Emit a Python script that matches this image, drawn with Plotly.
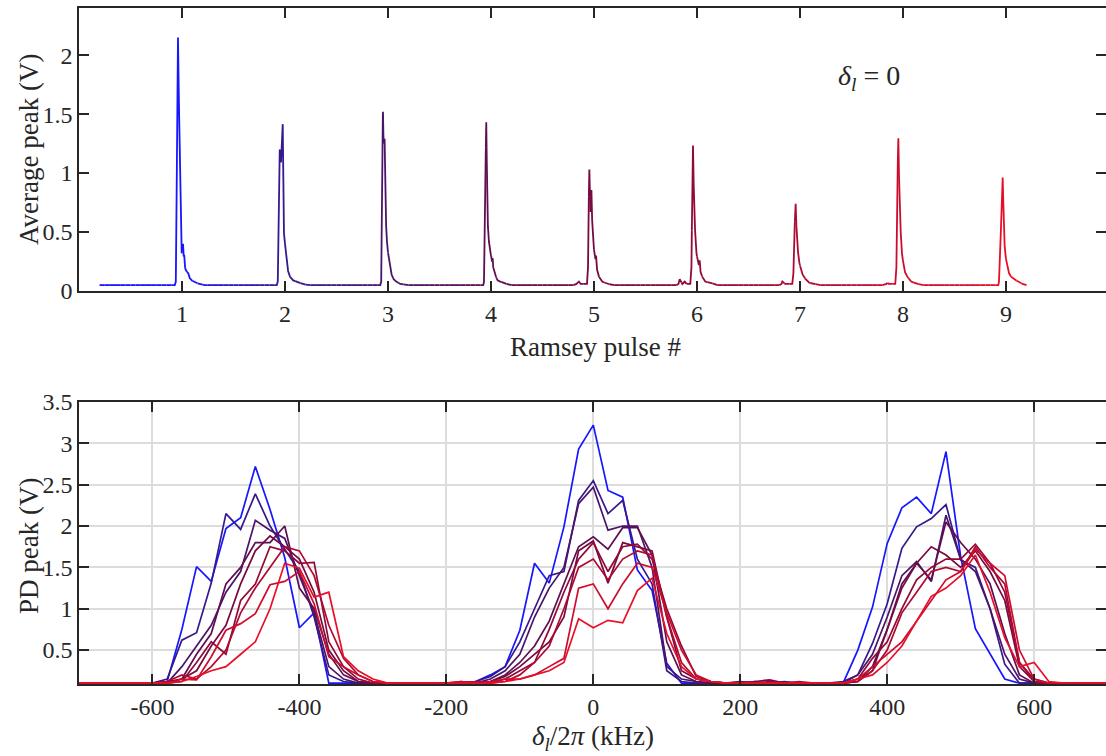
import numpy as np
import plotly.graph_objects as go

# ---------------- top panel: averaged PD trace over the Ramsey pulse train ----------------
TRACE_START = 0.2
BASELINE = 0.05
PULSE_NUMBERS = [1, 2, 3, 4, 5, 6, 7, 8, 9]

# each pulse: offsets from the pulse number, and averaged peak voltage (V)
P1_DX = [-0.07, -0.06, -0.045, -0.039, -0.03, -0.019, -0.008, -0.003, 0.004, 0.01, 0.016, 0.022, 0.03, 0.036, 0.05, 0.061, 0.075, 0.094, 0.13, 0.175, 0.22]
P1_V = [0.05, 0.08, 1.5, 2.15, 1.6, 0.97, 0.45, 0.32, 0.36, 0.40, 0.30, 0.30, 0.20, 0.18, 0.16, 0.15, 0.11, 0.09, 0.07, 0.06, 0.05]
P2_DX = [-0.08, -0.07, -0.058, -0.051, -0.045, -0.039, -0.03, -0.022, -0.016, -0.01, 0.0, 0.008, 0.016, 0.03, 0.049, 0.08, 0.11, 0.17, 0.22]
P2_V = [0.05, 0.08, 0.9, 1.2, 1.18, 1.09, 1.25, 1.415, 0.95, 0.49, 0.40, 0.33, 0.26, 0.17, 0.12, 0.09, 0.08, 0.06, 0.05]
P3_DX = [-0.075, -0.066, -0.058, -0.052, -0.049, -0.044, -0.038, -0.033, -0.026, -0.018, -0.01, -0.004, 0.008, 0.022, 0.035, 0.055, 0.08, 0.12, 0.2]
P3_V = [0.05, 0.08, 0.9, 1.45, 1.52, 1.3, 1.25, 1.29, 0.9, 0.55, 0.42, 0.35, 0.28, 0.20, 0.14, 0.10, 0.08, 0.06, 0.05]
P4_DX = [-0.075, -0.068, -0.056, -0.046, -0.041, -0.039, -0.03, -0.02, -0.008, 0.003, 0.01, 0.016, 0.022, 0.042, 0.065, 0.09, 0.15, 0.2]
P4_V = [0.05, 0.08, 0.9, 1.43, 1.1, 0.92, 0.55, 0.42, 0.32, 0.29, 0.25, 0.28, 0.20, 0.13, 0.09, 0.08, 0.06, 0.05]
P5_DX = [-0.2, -0.17, -0.146, -0.13, -0.068, -0.058, -0.05, -0.045, -0.04, -0.035, -0.03, -0.025, -0.018, -0.01, 0.0, 0.007, 0.014, 0.02, 0.03, 0.049, 0.08, 0.13, 0.2]
P5_V = [0.05, 0.06, 0.08, 0.06, 0.06, 0.2, 0.8, 1.03, 0.85, 0.67, 0.8, 0.857, 0.6, 0.45, 0.35, 0.29, 0.27, 0.30, 0.18, 0.12, 0.08, 0.06, 0.05]
P6_DX = [-0.2, -0.18, -0.168, -0.155, -0.142, -0.13, -0.119, -0.1, -0.065, -0.054, -0.045, -0.039, -0.032, -0.026, -0.019, -0.005, 0.01, 0.018, 0.026, 0.035, 0.052, 0.08, 0.133, 0.2]
P6_V = [0.05, 0.06, 0.10, 0.08, 0.06, 0.07, 0.08, 0.06, 0.06, 0.2, 0.9, 1.233, 0.9, 0.65, 0.52, 0.32, 0.24, 0.22, 0.26, 0.16, 0.12, 0.08, 0.07, 0.05]
P7_DX = [-0.2, -0.18, -0.171, -0.16, -0.145, -0.075, -0.064, -0.052, -0.042, -0.035, -0.027, -0.019, -0.006, 0.007, 0.025, 0.055, 0.09, 0.136, 0.2]
P7_V = [0.05, 0.06, 0.08, 0.075, 0.06, 0.06, 0.15, 0.55, 0.739, 0.55, 0.40, 0.33, 0.24, 0.19, 0.14, 0.10, 0.07, 0.06, 0.05]
P8_DX = [-0.2, -0.16, -0.151, -0.14, -0.075, -0.064, -0.053, -0.045, -0.038, -0.03, -0.022, -0.01, 0.004, 0.02, 0.043, 0.08, 0.14, 0.2]
P8_V = [0.05, 0.06, 0.07, 0.06, 0.06, 0.2, 1.0, 1.296, 0.95, 0.6, 0.5, 0.32, 0.23, 0.16, 0.12, 0.08, 0.06, 0.05]
P9_DX = [-0.075, -0.068, -0.05, -0.038, -0.032, -0.026, -0.02, -0.013, 0.0, 0.013, 0.03, 0.05, 0.078, 0.12, 0.16, 0.2]
P9_V = [0.05, 0.08, 0.5, 0.9, 0.962, 0.75, 0.5, 0.38, 0.27, 0.21, 0.15, 0.12, 0.10, 0.08, 0.06, 0.05]

PULSE_DX = [P1_DX, P2_DX, P3_DX, P4_DX, P5_DX, P6_DX, P7_DX, P8_DX, P9_DX]
PULSE_V = [P1_V, P2_V, P3_V, P4_V, P5_V, P6_V, P7_V, P8_V, P9_V]

# ---------------- bottom panel: PD peak vs two-photon detuning, one curve per pulse ----------------
DETUNING_KHZ = list(range(-700, 701, 20))

PD_PULSE_1 = [0.10, 0.10, 0.10, 0.10, 0.10, 0.10, 0.12, 0.75, 1.51, 1.33, 1.97, 2.10, 2.72, 2.20, 1.62, 0.77, 0.95, 0.10, 0.10, 0.10, 0.10,
              0.10, 0.10, 0.10, 0.10, 0.10, 0.10, 0.12, 0.20, 0.30, 0.74, 1.55, 1.31, 1.99, 2.93, 3.22, 2.43, 2.35, 1.47, 1.22, 0.34, 0.10,
              0.10, 0.10, 0.10, 0.10, 0.10, 0.10, 0.10, 0.10, 0.10, 0.10, 0.10, 0.50, 1.02, 1.79, 2.22, 2.35, 2.15, 2.90, 1.63, 0.76, 0.45,
              0.15, 0.10, 0.10, 0.10, 0.10, 0.10, 0.10, 0.10]
PD_PULSE_2 = [0.10, 0.10, 0.10, 0.10, 0.10, 0.10, 0.15, 0.62, 0.71, 1.31, 2.15, 1.96, 2.39, 2.00, 1.72, 1.45, 0.90, 0.20, 0.12, 0.10, 0.10,
              0.10, 0.10, 0.10, 0.10, 0.10, 0.10, 0.12, 0.18, 0.30, 0.60, 1.00, 1.40, 1.45, 2.31, 2.55, 2.15, 2.31, 1.60, 1.30, 0.25, 0.12,
              0.10, 0.10, 0.10, 0.11, 0.10, 0.10, 0.12, 0.10, 0.10, 0.10, 0.12, 0.20, 0.58, 1.06, 1.73, 1.99, 2.09, 2.26, 1.59, 1.50, 1.00,
              0.33, 0.10, 0.10, 0.10, 0.10, 0.10, 0.10, 0.10]
PD_PULSE_3 = [0.10, 0.10, 0.10, 0.10, 0.10, 0.10, 0.10, 0.30, 0.55, 0.80, 1.20, 1.45, 2.07, 1.95, 1.85, 1.40, 0.95, 0.30, 0.15, 0.10, 0.10,
              0.10, 0.10, 0.10, 0.10, 0.10, 0.10, 0.10, 0.15, 0.25, 0.45, 0.90, 1.25, 1.50, 2.27, 2.47, 1.95, 2.00, 2.00, 1.50, 0.30, 0.15,
              0.12, 0.10, 0.10, 0.10, 0.12, 0.10, 0.10, 0.10, 0.10, 0.10, 0.10, 0.20, 0.45, 0.90, 1.40, 1.57, 1.33, 2.13, 1.60, 1.45, 1.00,
              0.45, 0.15, 0.10, 0.10, 0.10, 0.10, 0.10, 0.10]
PD_PULSE_4 = [0.10, 0.10, 0.10, 0.10, 0.10, 0.10, 0.10, 0.15, 0.45, 0.70, 1.30, 1.50, 1.80, 1.80, 2.00, 1.25, 1.00, 0.45, 0.20, 0.12, 0.10,
              0.10, 0.10, 0.10, 0.10, 0.10, 0.10, 0.10, 0.12, 0.20, 0.35, 0.55, 0.85, 1.30, 1.75, 1.87, 1.72, 1.98, 1.98, 1.65, 0.60, 0.20,
              0.12, 0.10, 0.10, 0.12, 0.10, 0.10, 0.10, 0.10, 0.10, 0.10, 0.10, 0.12, 0.30, 0.75, 1.30, 1.55, 1.35, 2.05, 1.80, 1.60, 1.30,
              0.70, 0.20, 0.10, 0.10, 0.10, 0.10, 0.10, 0.10]
PD_PULSE_5 = [0.10, 0.10, 0.10, 0.10, 0.10, 0.10, 0.12, 0.15, 0.25, 0.55, 0.80, 1.30, 1.70, 1.88, 1.75, 1.60, 1.20, 0.50, 0.25, 0.12, 0.10,
              0.10, 0.10, 0.10, 0.10, 0.10, 0.10, 0.10, 0.12, 0.18, 0.30, 0.45, 0.60, 0.90, 1.70, 1.82, 1.31, 1.80, 1.75, 1.70, 0.90, 0.25,
              0.15, 0.12, 0.10, 0.10, 0.12, 0.14, 0.10, 0.10, 0.10, 0.10, 0.10, 0.12, 0.25, 0.75, 1.25, 1.55, 1.75, 1.65, 1.50, 1.70, 1.45,
              1.10, 0.30, 0.12, 0.10, 0.10, 0.10, 0.10, 0.10]
PD_PULSE_6 = [0.10, 0.10, 0.10, 0.10, 0.10, 0.10, 0.10, 0.12, 0.35, 0.60, 0.45, 1.10, 1.30, 1.75, 1.70, 1.55, 1.56, 0.60, 0.30, 0.15, 0.10,
              0.10, 0.10, 0.10, 0.10, 0.10, 0.12, 0.10, 0.10, 0.15, 0.25, 0.35, 0.75, 1.20, 1.60, 1.80, 1.45, 1.75, 1.78, 1.60, 1.00, 0.55,
              0.18, 0.12, 0.10, 0.10, 0.10, 0.12, 0.10, 0.10, 0.10, 0.10, 0.10, 0.15, 0.40, 0.60, 1.00, 1.35, 1.50, 1.60, 1.60, 1.78, 1.55,
              1.20, 0.35, 0.15, 0.10, 0.10, 0.10, 0.10, 0.10]
PD_PULSE_7 = [0.10, 0.10, 0.10, 0.10, 0.10, 0.10, 0.12, 0.20, 0.15, 0.30, 0.50, 0.95, 1.25, 1.50, 1.75, 1.70, 1.40, 0.80, 0.40, 0.20, 0.12,
              0.10, 0.10, 0.10, 0.10, 0.10, 0.10, 0.12, 0.10, 0.12, 0.20, 0.35, 0.55, 1.00, 1.50, 1.60, 1.35, 1.60, 1.70, 1.65, 0.90, 0.35,
              0.15, 0.12, 0.10, 0.10, 0.10, 0.10, 0.10, 0.12, 0.10, 0.10, 0.10, 0.12, 0.25, 0.50, 0.95, 1.20, 1.45, 1.50, 1.45, 1.75, 1.50,
              1.30, 0.35, 0.12, 0.10, 0.10, 0.10, 0.10, 0.10]
PD_PULSE_8 = [0.10, 0.10, 0.10, 0.10, 0.10, 0.10, 0.10, 0.15, 0.14, 0.42, 0.74, 0.82, 0.94, 1.29, 1.33, 1.45, 1.06, 0.42, 0.30, 0.20, 0.12,
              0.10, 0.10, 0.10, 0.10, 0.10, 0.12, 0.10, 0.12, 0.15, 0.15, 0.20, 0.30, 0.40, 1.25, 1.30, 1.00, 1.30, 1.55, 1.50, 0.95, 0.50,
              0.20, 0.12, 0.10, 0.10, 0.10, 0.10, 0.10, 0.10, 0.10, 0.10, 0.10, 0.15, 0.30, 0.45, 0.60, 0.85, 1.10, 1.35, 1.45, 1.72, 1.55,
              1.40, 0.50, 0.15, 0.10, 0.10, 0.10, 0.10, 0.10]
PD_PULSE_9 = [0.10, 0.10, 0.10, 0.10, 0.10, 0.10, 0.10, 0.12, 0.18, 0.25, 0.30, 0.45, 0.60, 1.00, 1.55, 1.49, 1.14, 1.20, 0.42, 0.25, 0.15,
              0.10, 0.10, 0.10, 0.10, 0.10, 0.10, 0.10, 0.10, 0.12, 0.15, 0.20, 0.25, 0.35, 0.88, 0.77, 0.86, 0.83, 1.22, 1.37, 0.70, 0.30,
              0.15, 0.12, 0.10, 0.10, 0.10, 0.10, 0.10, 0.10, 0.10, 0.10, 0.10, 0.15, 0.20, 0.35, 0.55, 0.85, 1.15, 1.25, 1.40, 1.65, 1.20,
              0.65, 0.30, 0.35, 0.12, 0.10, 0.10, 0.10, 0.10]
PD_CURVES = [PD_PULSE_1, PD_PULSE_2, PD_PULSE_3, PD_PULSE_4, PD_PULSE_5, PD_PULSE_6, PD_PULSE_7, PD_PULSE_8, PD_PULSE_9]

# colour for each pulse, blue (first) through to red (last)
PULSE_COLORS = [(22, 22, 255), (55, 25, 140), (75, 20, 105), (95, 15, 80), (120, 10, 65),
                (145, 10, 55), (175, 10, 50), (205, 12, 45), (232, 15, 40)]

AX = '#262626'
FONT = 'Liberation Serif, Times New Roman, serif'


def pulse_color(pos):
    """Colour along the pulse train, blended between the per-pulse colours."""
    p = min(max(pos, 1.0), 9.0)
    i = min(int(np.floor(p)), 8)
    f = p - i
    c0 = np.array(PULSE_COLORS[i - 1])
    c1 = np.array(PULSE_COLORS[min(i, 8)])
    c = c0 + (c1 - c0) * f
    return 'rgb(%d,%d,%d)' % tuple(np.round(c).astype(int))


# assemble the averaged trace
tx = [TRACE_START]
ty = [BASELINE]
for k, dxs, vs in zip(PULSE_NUMBERS, PULSE_DX, PULSE_V):
    tx += [k + d for d in dxs]
    ty += list(vs)
tx = np.array(tx)
ty = np.array(ty)

fig = go.Figure()

# draw the trace in short pieces so its colour can run along the pulse train
STEP = 0.05
edges = np.arange(TRACE_START, tx[-1] + STEP, STEP)
for a, b in zip(edges[:-1], edges[1:]):
    inside = (tx > a) & (tx < b)
    xa, xb = a, min(b, tx[-1])
    if xa >= xb:
        continue
    sx = np.concatenate([[xa], tx[inside], [xb]])
    sy = np.interp(sx, tx, ty)
    fig.add_trace(go.Scatter(x=sx, y=sy, mode='lines', xaxis='x', yaxis='y',
                             line=dict(color=pulse_color((xa + xb) / 2), width=1.8),
                             hoverinfo='skip', showlegend=False))

for i, vals in enumerate(PD_CURVES):
    c = 'rgb(%d,%d,%d)' % PULSE_COLORS[i]
    fig.add_trace(go.Scatter(x=DETUNING_KHZ, y=vals, mode='lines', xaxis='x2', yaxis='y2',
                             line=dict(color=c, width=1.7), name='pulse %d' % (i + 1),
                             showlegend=False))

W, H = 1106, 756
L = 79
tick_font = dict(family=FONT, size=24, color=AX)
axis_common = dict(showline=True, linecolor=AX, linewidth=1.6, mirror='ticks', ticks='inside',
                   ticklen=10, tickwidth=1.6, tickcolor=AX, zeroline=False, tickfont=tick_font,
                   automargin=False)

X2_TICKS = [-600, -400, -200, 0, 200, 400, 600]

fig.update_layout(
    width=W, height=H, margin=dict(l=0, r=0, t=0, b=0, autoexpand=False),
    paper_bgcolor='white', plot_bgcolor='white', showlegend=False,
    xaxis=dict(domain=[L / W, 1], range=[0, 9.971], anchor='y', tickvals=PULSE_NUMBERS,
               showgrid=False, ticklabelstandoff=0, **axis_common),
    yaxis=dict(domain=[1 - 291 / H, 1 - 8 / H], range=[0, 2.4], anchor='x',
               tickvals=[0, 0.5, 1, 1.5, 2], ticktext=['0', '0.5', '1', '1.5', '2'],
               showgrid=False, ticklabelstandoff=0, **axis_common),
    xaxis2=dict(domain=[L / W, 1], range=[-700, 697.8], anchor='y2', tickvals=X2_TICKS,
                ticktext=[str(v) for v in X2_TICKS], showgrid=True, gridcolor='#dcdcdc',
                gridwidth=1.5, ticklabelstandoff=0, **axis_common),
    yaxis2=dict(domain=[1 - 684 / H, 1 - 402 / H], range=[0.09, 3.5], anchor='x2',
                tickvals=[0.5, 1, 1.5, 2, 2.5, 3, 3.5],
                ticktext=['0.5', '1', '1.5', '2', '2.5', '3', '3.5'],
                showgrid=True, gridcolor='#dcdcdc', gridwidth=1.5, ticklabelstandoff=0,
                **axis_common),
)

label_font = dict(family=FONT, size=27, color=AX)
fig.add_annotation(text='Average peak (V)', x=29 / W, y=1 - 150 / H, xref='paper', yref='paper',
                   textangle=-90, showarrow=False, font=label_font, xanchor='center', yanchor='middle')
fig.add_annotation(text='Ramsey pulse #', x=595 / W, y=1 - 347 / H, xref='paper', yref='paper',
                   showarrow=False, font=label_font, xanchor='center', yanchor='middle')
fig.add_annotation(text='PD peak (V)', x=29 / W, y=1 - 546 / H, xref='paper', yref='paper',
                   textangle=-90, showarrow=False, font=label_font, xanchor='center', yanchor='middle')
fig.add_annotation(text='<i>δ</i><sub><i>l</i></sub>/2<i>π</i> (kHz)', x=593 / W, y=1 - 738 / H,
                   xref='paper', yref='paper', showarrow=False, font=label_font,
                   xanchor='center', yanchor='middle')
fig.add_annotation(text='<i>δ</i><sub><i>l</i></sub> = 0', x=869 / W, y=1 - 78 / H,
                   xref='paper', yref='paper', showarrow=False,
                   font=dict(family=FONT, size=28, color=AX),
                   xanchor='center', yanchor='middle')

fig.write_html('out.html', post_script="document.body.style.margin='0px';")
